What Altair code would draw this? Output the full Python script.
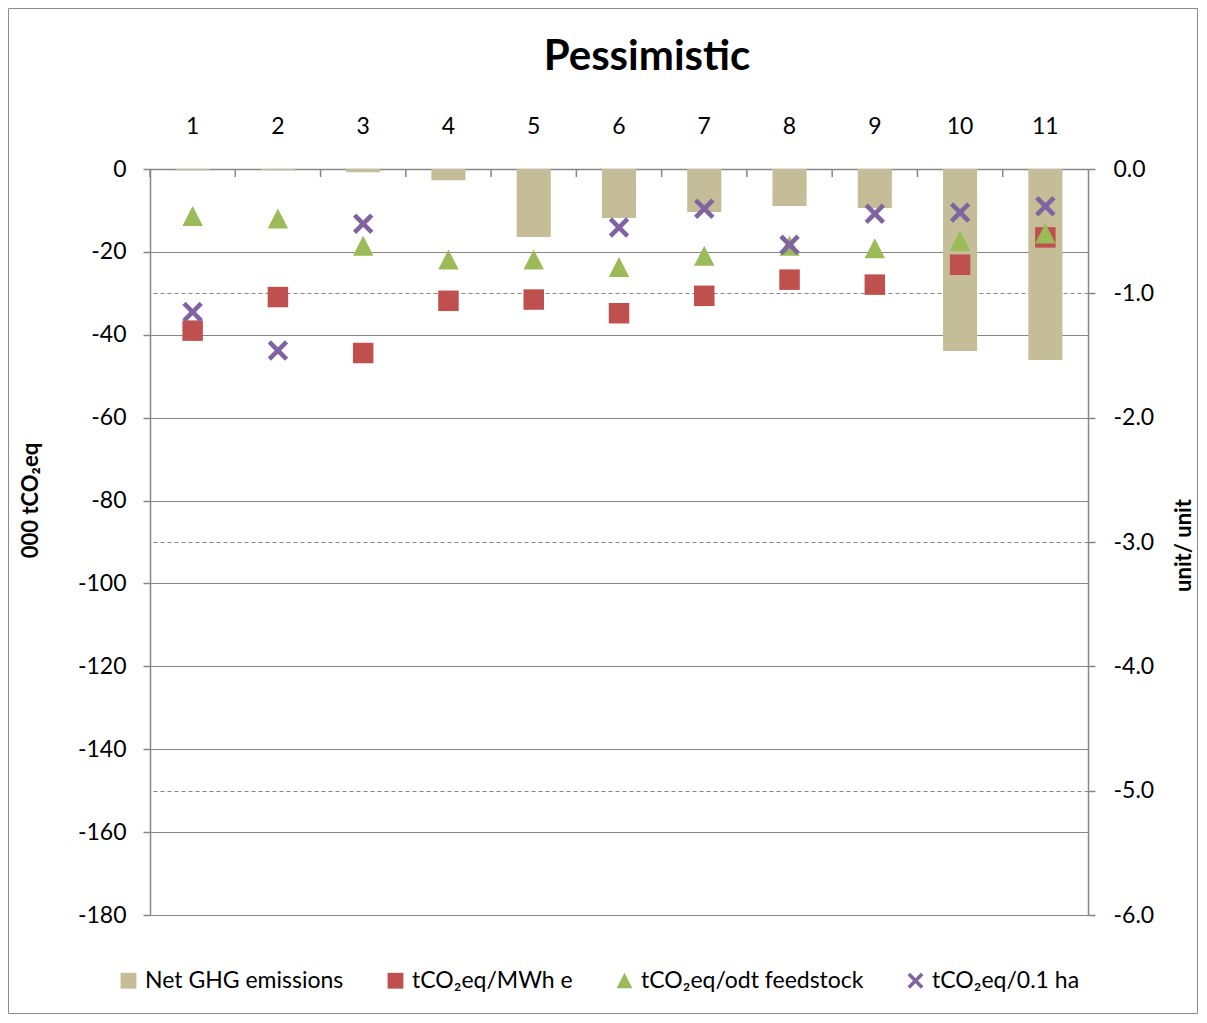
import altair as alt
import pandas as pd

# ---------------- data ----------------
categories = [1, 2, 3, 4, 5, 6, 7, 8, 9, 10, 11]
net_ghg = [-0.3, -0.3, -0.8, -2.7, -16.4, -11.8, -10.4, -8.9, -9.4, -43.9, -46.1]
per_mwh = [-1.30, -1.03, -1.48, -1.06, -1.05, -1.16, -1.02, -0.89, -0.93, -0.77, -0.55]
per_odt = [-0.38, -0.40, -0.62, -0.73, -0.73, -0.79, -0.70, -0.62, -0.64, -0.58, -0.52]
per_ha = [-1.15, -1.46, -0.44, None, None, -0.47, -0.32, -0.61, -0.36, -0.35, -0.30]

series_names = ["Net GHG emissions", "tCO₂eq/MWh e", "tCO₂eq/odt feedstock", "tCO₂eq/0.1 ha"]
series_colors = ["#C4BD97", "#C0504D", "#9BBB59", "#8064A2"]
x_path = ("M-1,-0.68L-0.68,-1L0,-0.32L0.68,-1L1,-0.68L0.32,0L1,0.68L0.68,1"
          "L0,0.32L-0.68,1L-1,0.68L-0.32,0Z")
tri_path = "M0,-1L1,0.95L-1,0.95Z"
series_shapes = ["square", "square", tri_path, x_path]

left_ticks = list(range(-180, 1, 20))
right_ticks = [0, -1, -2, -3, -4, -5, -6]

# ---------------- tables ----------------
bars_df = pd.DataFrame({"cat": categories, "value": net_ghg, "series": series_names[0]})
rows = []
for name, vals in zip(series_names[1:], [per_mwh, per_odt, per_ha]):
    for c, v in zip(categories, vals):
        if v is not None:
            rows.append({"cat": c, "value": v, "series": name})
pts_df = pd.DataFrame(rows)

FONT = "Lato"
GRAY = "#868686"

x_scale = alt.Scale(paddingInner=0, paddingOuter=0)
color_scale = alt.Scale(domain=series_names, range=series_colors)
shape_scale = alt.Scale(domain=series_names, range=series_shapes)

x_axis = alt.Axis(orient="top", labelAngle=0, labelFontSize=23, labelColor="black",
                  labelPadding=31, ticks=False, domainColor=GRAY, domainWidth=1.5,
                  grid=False, labelFont=FONT, title=None)

legend = alt.Legend(
    orient="none", legendX=-33, legendY=800, direction="horizontal", title=None,
    labelFontSize=23, labelFont=FONT, labelColor="black", labelLimit=0,
    symbolSize=250, symbolStrokeWidth=0, columnPadding=40, labelOffset=5,
    symbolOpacity=1,
)

bars = alt.Chart(bars_df).mark_bar(width=alt.RelativeBandSize(0.4)).encode(
    x=alt.X("cat:O", scale=x_scale, axis=x_axis),
    y=alt.Y("value:Q", scale=alt.Scale(domain=[-180, 0], nice=False, zero=False),
            axis=alt.Axis(orient="left", values=left_ticks, title="000 tCO₂eq",
                          labelExpr="datum.value == 0 ? '0' : '-' + format(-datum.value, 'd')",
                          titleFontSize=22, titleFontWeight="bold", titleFont=FONT,
                          titleColor="black", titleX=-120, titleY=331, titleAngle=270,
                          titleAlign="center", titleBaseline="middle",
                          labelFontSize=23, labelFont=FONT, labelColor="black", labelPadding=17,
                          tickSize=7, tickColor=GRAY, tickWidth=1.5,
                          domainColor=GRAY, domainWidth=1.5,
                          grid=True, gridColor=GRAY, gridWidth=1.2)),
    color=alt.Color("series:N", scale=color_scale, legend=legend),
)

band_ticks = alt.Chart(bars_df).mark_rule(color=GRAY, strokeWidth=1.5).encode(
    x=alt.X("cat:O", bandPosition=0, scale=x_scale, axis=x_axis),
    y=alt.value(0),
    y2=alt.value(8),
)

points = alt.Chart(pts_df).mark_point(filled=True, opacity=1, size=420, strokeWidth=0).encode(
    x=alt.X("cat:O", scale=x_scale, axis=x_axis),
    y=alt.Y("value:Q", scale=alt.Scale(domain=[-6, 0], nice=False, zero=False),
            axis=alt.Axis(orient="right", values=right_ticks, title="unit/ unit",
                          labelExpr="datum.value == 0 ? '0.0' : '-' + format(-datum.value, '.1f')",
                          titleFontSize=22, titleFontWeight="bold", titleFont=FONT,
                          titleColor="black", titleX=95, titleY=376, titleAngle=270,
                          titleAlign="center", titleBaseline="middle",
                          labelFontSize=23, labelFont=FONT, labelColor="black", labelPadding=18,
                          tickSize=7, tickColor=GRAY, tickWidth=1.5,
                          domainColor=GRAY, domainWidth=1.5,
                          grid=True, gridColor=GRAY, gridWidth=1.2, gridDash=[4, 3])),
    color=alt.Color("series:N", scale=color_scale, legend=legend),
    shape=alt.Shape("series:N", scale=shape_scale, legend=legend),
)

frame = alt.Chart(pd.DataFrame({"f": [0]})).mark_rect(
    fillOpacity=0, stroke="#8c8c8c", strokeWidth=1
).encode(x=alt.value(-141.5), x2=alt.value(1047.5), y=alt.value(-160.5), y2=alt.value(844.5))

chart = alt.layer(bars, band_ticks, points, frame).resolve_scale(
    y="independent"
).properties(
    width=938,
    height=746,
    title=alt.TitleParams("Pessimistic", fontSize=42, fontWeight="bold", font=FONT,
                          color="black", anchor="middle", dx=28, offset=0, dy=104,
                          baseline="alphabetic"),
    autosize=alt.AutoSizeParams(type="none"),
    padding={"left": 142, "top": 161, "right": 110, "bottom": 99},
).configure(font=FONT).configure_view(stroke=None)

chart.save("out.html", embed_options={"renderer": "svg", "actions": False})
